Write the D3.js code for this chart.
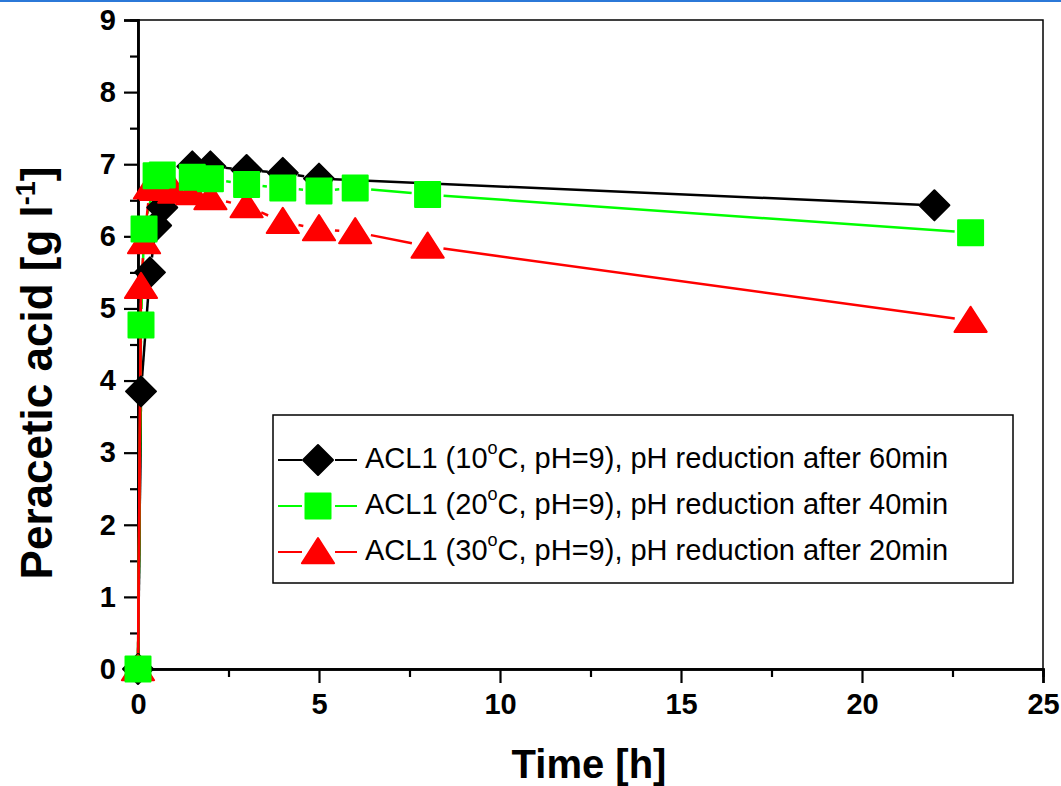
<!DOCTYPE html>
<html>
<head>
<meta charset="utf-8">
<script src="https://cdn.jsdelivr.net/npm/d3@7"></script>
<style>
  body { margin: 0; background: #fff; }
  svg { display: block; font-family: "Liberation Sans", Arial, sans-serif; }
</style>
</head>
<body>
<div id="chart"></div>
<script>
// time [h] and peracetic acid [g/l]
var time10 = [0, 0.083, 0.33, 0.5, 0.67, 1.5, 2, 3, 4, 5, 22];
var paa10  = [0, 3.85, 5.5, 6.15, 6.4, 6.97, 6.97, 6.92, 6.88, 6.8, 6.43];

var time20 = [0, 0.083, 0.167, 0.5, 0.67, 1.5, 2, 3, 4, 5, 6, 8, 23];
var paa20  = [0, 4.77, 6.1, 6.84, 6.85, 6.82, 6.8, 6.72, 6.67, 6.63, 6.67, 6.58, 6.05];

var time30 = [0, 0.083, 0.167, 0.33, 0.5, 1, 1.5, 2, 3, 4, 5, 6, 8, 23];
var paa30  = [0, 5.3, 5.92, 6.68, 6.66, 6.62, 6.6, 6.53, 6.42, 6.2, 6.1, 6.06, 5.86, 4.83];

var xTicks = [0, 5, 10, 15, 20, 25];
var yTicks = [0, 1, 2, 3, 4, 5, 6, 7, 8, 9];

var seriesNames = ["10", "20", "30"];
var seriesAfter = ["60min", "40min", "20min"];

var W = 1061, H = 786;
var margin = {left: 138, right: 18, top: 20, bottom: 117};
var width = W - margin.left - margin.right;
var height = H - margin.top - margin.bottom;

var svg = d3.select("#chart").append("svg")
	.attr("width", W)
	.attr("height", H);

// thin blue rule at the very top
svg.append("rect")
	.attr("x", 0).attr("y", 0)
	.attr("width", W).attr("height", 2)
	.attr("fill", "#2b78d8");

var x = d3.scaleLinear().domain([0, 25]).range([0, width]);
var y = d3.scaleLinear().domain([0, 9]).range([height, 0]);

var g = svg.append("g")
	.attr("transform", "translate(" + margin.left + "," + margin.top + ")");

// frame
g.append("rect")
	.attr("x", 0).attr("y", 0)
	.attr("width", width).attr("height", height)
	.attr("fill", "none")
	.attr("stroke", "#000")
	.attr("stroke-width", 1.5);

// axes
g.append("g")
	.attr("transform", "translate(0," + height + ")")
	.call(d3.axisBottom(x).tickValues(xTicks).tickSize(14).tickPadding(10).tickFormat(d3.format("d")));
g.append("g")
	.attr("transform", "translate(0," + height + ")")
	.call(d3.axisBottom(x).tickValues(d3.range(2.5, 25, 5)).tickSize(8).tickFormat(""));

g.append("g")
	.call(d3.axisLeft(y).tickValues(yTicks).tickSize(14).tickPadding(8).tickFormat(d3.format("d")));
g.append("g")
	.call(d3.axisLeft(y).tickValues(d3.range(0.5, 9, 1)).tickSize(8).tickFormat(""));

g.selectAll(".domain").attr("stroke-width", 2.5);
g.selectAll(".tick line").attr("stroke-width", 2.2);
g.selectAll(".tick text")
	.style("font-size", "29px")
	.style("font-weight", "bold")
	.attr("fill", "#000");

// axis titles
svg.append("text")
	.attr("x", 589)
	.attr("y", 778)
	.attr("text-anchor", "middle")
	.style("font-size", "40px")
	.style("font-weight", "bold")
	.text("Time [h]");

var yl = svg.append("text")
	.attr("transform", "translate(52,373) rotate(-90)")
	.attr("text-anchor", "middle")
	.style("font-size", "44px")
	.style("font-weight", "bold");
yl.append("tspan").text("Peracetic acid [g l");
yl.append("tspan").attr("dy", -17).style("font-size", "27px").text("-1");
yl.append("tspan").attr("dy", 17).text("]");

// marker shapes
function diamond(s) { return "M0," + (-s) + "L" + s + ",0L0," + s + "L" + (-s) + ",0Z"; }
function square(s) { return "M" + (-s) + "," + (-s) + "h" + (2 * s) + "v" + (2 * s) + "h" + (-2 * s) + "Z"; }
function triangle(s) { return "M0," + (-s * 1.0) + "L" + (s * 1.15) + "," + (s * 0.8) + "L" + (-s * 1.15) + "," + (s * 0.8) + "Z"; }

var series = [
	{time: time10, val: paa10, color: "#000000", shape: diamond, size: 15, gap: 15},
	{time: time20, val: paa20, color: "#00ff00", shape: square, size: 12.5, gap: 16},
	{time: time30, val: paa30, color: "#ff0000", shape: triangle, size: 14, gap: 16}
];

// lines broken around symbols, like the original plotting package does
function drawSeries(s) {
	var pts = s.time.map(function(t, i) { return [x(t), y(s.val[i])]; });
	var segs = [];
	for (var i = 0; i < pts.length - 1; i++) {
		var a = pts[i], b = pts[i + 1];
		var dx = b[0] - a[0], dy = b[1] - a[1];
		var len = Math.sqrt(dx * dx + dy * dy);
		if (len <= 2 * s.gap) continue;
		var ux = dx / len, uy = dy / len;
		segs.push([a[0] + ux * s.gap, a[1] + uy * s.gap, b[0] - ux * s.gap, b[1] - uy * s.gap]);
	}
	// the steep first rise is drawn through the symbols
	g.append("line")
		.attr("x1", pts[0][0]).attr("y1", pts[0][1] - 8)
		.attr("x2", pts[1][0]).attr("y2", pts[1][1])
		.attr("stroke", s.color).attr("stroke-width", 2.5);
	g.selectAll(null).data(segs).enter().append("line")
		.attr("x1", function(d) { return d[0]; })
		.attr("y1", function(d) { return d[1]; })
		.attr("x2", function(d) { return d[2]; })
		.attr("y2", function(d) { return d[3]; })
		.attr("stroke", s.color)
		.attr("stroke-width", 2.5);
}

series.forEach(drawSeries);

// symbols: black first, then red, green on top
[0, 2, 1].forEach(function(k) {
	var s = series[k];
	g.selectAll(null).data(s.time).enter().append("path")
		.attr("transform", function(t, i) { return "translate(" + x(t) + "," + y(s.val[i]) + ")"; })
		.attr("d", s.shape(s.size))
		.attr("fill", s.color)
		.attr("stroke", s.color)
		.attr("stroke-width", 2)
		.attr("stroke-linejoin", "round");
});

// legend
var leg = svg.append("g").attr("transform", "translate(273,415)");
leg.append("rect")
	.attr("x", 0).attr("y", 0)
	.attr("width", 740).attr("height", 168)
	.attr("fill", "#fff")
	.attr("stroke", "#000")
	.attr("stroke-width", 1.5);

series.forEach(function(s, i) {
	var cy = 45 + i * 46;
	leg.append("line").attr("x1", 5).attr("x2", 29).attr("y1", cy).attr("y2", cy)
		.attr("stroke", s.color).attr("stroke-width", 2);
	leg.append("line").attr("x1", 62).attr("x2", 84).attr("y1", cy).attr("y2", cy)
		.attr("stroke", s.color).attr("stroke-width", 2);
	leg.append("path")
		.attr("transform", "translate(45," + cy + ")")
		.attr("d", s.shape(s.size))
		.attr("fill", s.color)
		.attr("stroke", s.color)
		.attr("stroke-width", 2)
		.attr("stroke-linejoin", "round");
	var t = leg.append("text")
		.attr("x", 92)
		.attr("y", cy + 8)
		.style("font-size", "29px");
	t.append("tspan").text("ACL1 (" + seriesNames[i]);
	t.append("tspan").attr("dy", -14).style("font-size", "18px").text("o");
	t.append("tspan").attr("dy", 14).text("C, pH=9), pH reduction after " + seriesAfter[i]);
});
</script>
</body>
</html>
